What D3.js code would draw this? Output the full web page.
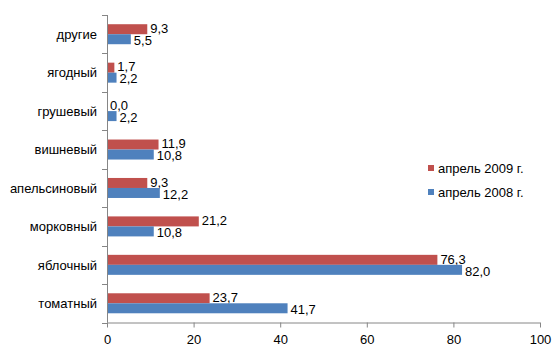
<!DOCTYPE html>
<html><head><meta charset="utf-8">
<script src="https://cdn.jsdelivr.net/npm/d3@7"></script>
<style>body{margin:0;background:#fff}text{font-family:"Liberation Sans",Arial,sans-serif}</style>
</head><body>
<svg id="c" width="559" height="363"></svg>
<script>
const categories = ["другие","ягодный","грушевый","вишневый","апельсиновый","морковный","яблочный","томатный"];
const series2009 = [9.3,1.7,0.0,11.9,9.3,21.2,76.3,23.7];
const series2008 = [5.5,2.2,2.2,10.8,12.2,10.8,82.0,41.7];
const seriesNames = ["апрель 2009 г.","апрель 2008 г."];
const xTicks = [0,20,40,60,80,100];
const colors = ["#C0504D","#4F81BD"];

(function(){
const svg = d3.select("#c");
const pL = 107, pR = 540, pT = 15, pB = 322.5;
const fs = 13;
const x = d3.scaleLinear().domain([0,100]).range([pL,pR]);
const y = d3.scaleBand().domain(categories).range([pT,pB]).paddingInner(0).paddingOuter(0);
const bh = 10;
const fmt = v => v.toFixed(1).replace(".", ",");

const series = [series2009, series2008];
series.forEach((vals, si) => {
  const g = svg.append("g");
  categories.forEach((c, i) => {
    const yc = y(c) + y.bandwidth()/2;
    const y0 = si === 0 ? yc - bh : yc;
    g.append("rect").attr("x", x(0)).attr("y", y0).attr("width", x(vals[i]) - x(0)).attr("height", bh)
      .attr("fill", colors[si]);
    g.append("text").attr("x", x(vals[i]) + 3).attr("y", y0 + bh/2 + (si === 0 ? -1 : 1)).attr("dy", "0.36em")
      .attr("font-size", fs).attr("fill", "#000").text(fmt(vals[i]));
  });
});

const xa = svg.append("g").attr("transform", `translate(0,${pB})`)
  .call(d3.axisBottom(x).tickValues(xTicks).tickSize(5).tickFormat(d => d));
xa.select(".domain").attr("stroke", "#868686").attr("d", `M${pL},0.5H${pR}`);
xa.selectAll(".tick line").attr("stroke", "#868686");
xa.selectAll(".tick text").attr("font-size", fs).attr("font-family", "Liberation Sans, Arial, sans-serif").attr("fill","#000").attr("dy","1.05em");

const ya = svg.append("g").attr("transform", `translate(${pL},0)`);
ya.append("line").attr("x1", 0.5).attr("x2", 0.5).attr("y1", pT).attr("y2", pB).attr("stroke", "#868686");
const bounds = categories.map(c => y(c)).concat([pB]);
ya.selectAll("line.t").data(bounds).enter().append("line").attr("class","t")
  .attr("x1", -5).attr("x2", 0).attr("y1", d => Math.round(d)+0.5).attr("y2", d => Math.round(d)+0.5).attr("stroke", "#868686");
ya.selectAll("text").data(categories).enter().append("text")
  .attr("x", -10).attr("y", d => y(d) + y.bandwidth()/2).attr("dy","0.36em")
  .attr("text-anchor","end").attr("font-size", fs).attr("fill","#000").text(d => d);

const lg = svg.append("g");
seriesNames.forEach((n, i) => {
  const ly = 168 + i*24;
  lg.append("rect").attr("x", 428).attr("y", ly - 3).attr("width", 6).attr("height", 6).attr("fill", colors[i]);
  lg.append("text").attr("x", 438).attr("y", ly).attr("dy","0.36em").attr("font-size", fs).attr("fill","#000").text(n);
});
})();
</script>
</body></html>
